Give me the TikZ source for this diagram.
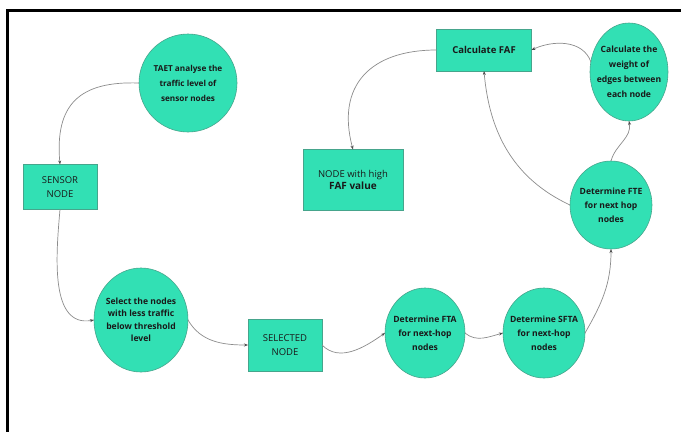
\documentclass[tikz,border=0pt]{standalone}
\usepackage{fontspec}
\setmainfont{Open Sans}
\usetikzlibrary{shapes.geometric,arrows.meta}
\definecolor{tealfill}{RGB}{50,224,180}
\definecolor{tealdraw}{RGB}{70,165,140}
\definecolor{edgegray}{RGB}{140,140,140}
\begin{document}
\begin{tikzpicture}[x=1pt,y=-1pt,
  blob/.style={ellipse,draw=tealdraw,fill=tealfill,line width=0.6pt,inner sep=0pt,outer sep=0pt},
  boxnode/.style={rectangle,draw=tealdraw,fill=tealfill,line width=0.6pt,inner sep=0pt,outer sep=0pt},
  txt/.style={align=center,font=\fontsize{8.6}{14}\selectfont\bfseries,text=black!90},
  ltxt/.style={align=center,font=\fontsize{9.5}{14}\selectfont,text=black!90},
  conn/.style={draw=edgegray,line width=0.7pt,-{Stealth[length=4pt,width=3pt,color=black!70]}}]
\useasboundingbox (0,0) rectangle (681,432);
\fill[white] (0,0) rectangle (681,432);
\draw[line width=3pt] (681,10.5) -- (7.5,10.5) -- (7.5,432);

% shapes
\node[blob,minimum width=98pt,minimum height=98pt] (taet) at (188,83) {};
\node[txt,font=\fontsize{8.2}{15}\selectfont\bfseries] (taett) at (taet.center) {TAET analyse the\\traffic level of\\sensor nodes};

\node[boxnode,minimum width=74pt,minimum height=45pt] (sensor) at (60,187) {};
\node[ltxt] (sensort) at (sensor.center) {SENSOR\\NODE};

\node[blob,minimum width=94pt,minimum height=104pt] (sel) at (141,320) {};
\node[txt,font=\fontsize{8.6}{12.5}\selectfont\bfseries] (selt) at (sel.center) {Select the nodes\\with less traffic\\below threshold\\level};

\node[boxnode,minimum width=74pt,minimum height=52pt] (selected) at (285,345) {};
\node[ltxt] (selectedt) at (selected.center) {SELECTED\\NODE};

\node[blob,minimum width=80pt,minimum height=90pt] (fta) at (425,333) {};
\node[txt] (ftat) at (fta.center) {Determine FTA\\for next-hop\\nodes};

\node[blob,minimum width=82pt,minimum height=90pt] (sfta) at (544,333) {};
\node[txt] (sftat) at (sfta.center) {Determine SFTA\\for next-hop\\nodes};

\node[blob,minimum width=82pt,minimum height=88pt] (fte) at (611,205) {};
\node[txt] (ftet) at (fte.center) {Determine FTE\\for next hop\\nodes};

\node[blob,minimum width=78pt,minimum height=98pt] (weight) at (629,72) {};
\node[txt,font=\fontsize{8.6}{15}\selectfont\bfseries] (weightt) at (weight.center) {Calculate the\\weight of\\edges between\\each node};

\node[boxnode,minimum width=95pt,minimum height=42pt] (faf) at (484,50) {};
\node[txt,font=\fontsize{9.5}{14}\selectfont\bfseries] (faft) at (faf.center) {Calculate FAF};

\node[boxnode,minimum width=100pt,minimum height=61pt] (high) at (353,180) {};
\node[align=center,text=black!90] (hight) at (high.center) {{\fontsize{9.5}{15}\selectfont NODE with high}\\{\fontsize{10}{15}\selectfont\bfseries FAF value}};

% connectors
\draw[conn] (taet.west) to[out=178,in=95,looseness=1.35] (sensor.north);
\draw[conn] (sensor.south) to[out=-95,in=190] (sel.west);
\draw[conn] (sel.east) to[out=-60,in=180] (selected.west);
\draw[conn] (selected.east) to[out=-45,in=215] (fta.west);
\draw[conn] (fta.east) to[out=-40,in=195] (sfta.west);
\draw[conn] (sfta.east) to[out=60,in=-90] (fte.south);
\draw[conn] (fte.north) to[out=75,in=-80] (weight.south);
\draw[conn] (weight.165) to[out=110,in=25] (faf.east);
\draw[conn] (fte.west) to[out=155,in=-85] (faf.south);
\draw[conn] (faf.west) to[out=180,in=105,looseness=1.3] (high.north);
\end{tikzpicture}
\end{document}
